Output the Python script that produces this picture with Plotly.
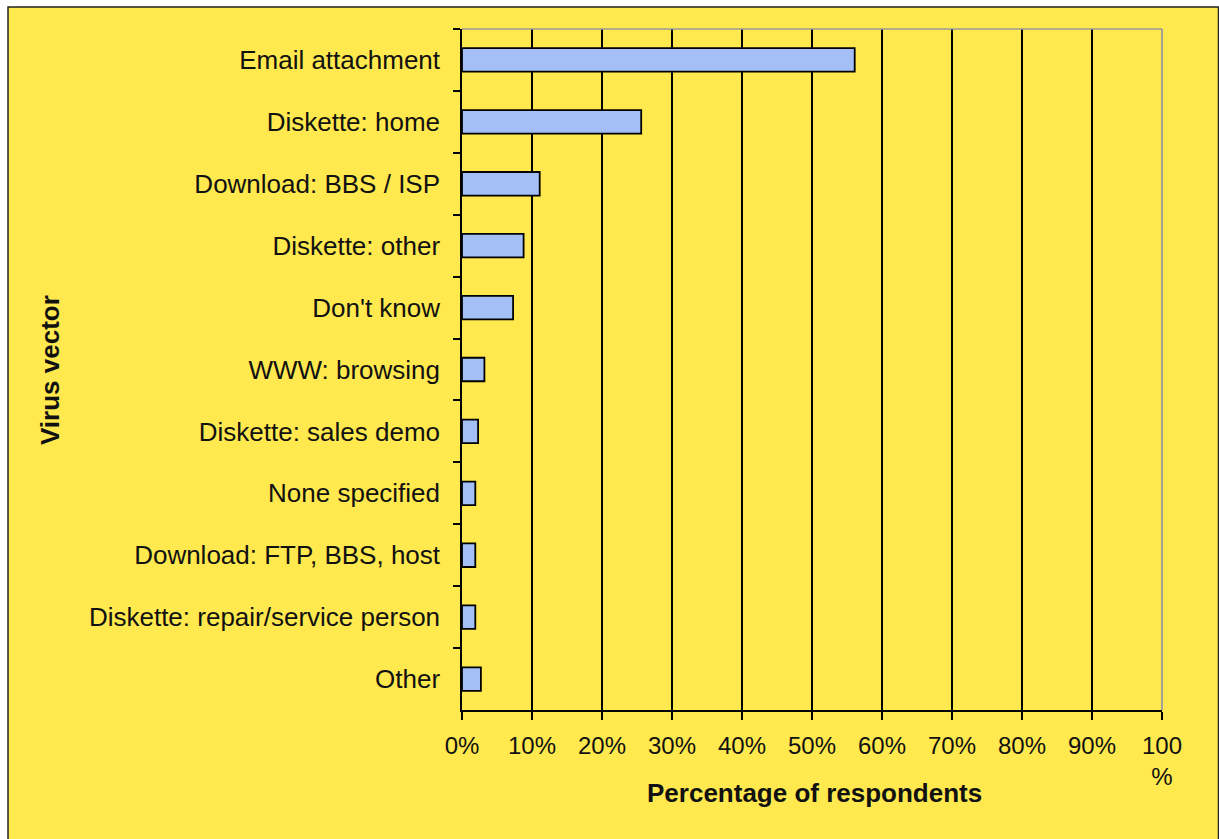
import plotly.graph_objects as go

categories = [
    "Email attachment",
    "Diskette: home",
    "Download: BBS / ISP",
    "Diskette: other",
    "Don't know",
    "WWW: browsing",
    "Diskette: sales demo",
    "None specified",
    "Download: FTP, BBS, host",
    "Diskette: repair/service person",
    "Other",
]
values = [56.1, 25.6, 11.1, 8.8, 7.3, 3.2, 2.3, 1.9, 1.9, 1.9, 2.7]
tick_vals = [0, 10, 20, 30, 40, 50, 60, 70, 80, 90, 100]
tick_text = ["0%", "10%", "20%", "30%", "40%", "50%", "60%", "70%", "80%", "90%", "100<br>%"]

W, H = 1219, 839
L, R, T, B = 462, W - 1162, 29, H - 710
pw, ph = W - L - R, H - T - B

def px(x):
    return (x - L) / pw

def py(y):
    return (H - B - y) / ph

FONT = "Liberation Sans, Arial, sans-serif"

fig = go.Figure(go.Bar(
    y=categories,
    x=values,
    orientation="h",
    width=0.38,
    marker=dict(color="#A3BFF5", line=dict(color="black", width=1.8)),
))

fig.update_layout(
    width=W, height=H,
    margin=dict(l=L, r=R, t=T, b=B, autoexpand=False),
    paper_bgcolor="white",
    plot_bgcolor="white",
    showlegend=False,
    font=dict(family=FONT, color="#111111"),
    xaxis=dict(
        range=[0, 100],
        tickvals=tick_vals,
        ticktext=tick_text,
        showgrid=True,
        gridcolor="black",
        gridwidth=1.5,
        zeroline=False,
        showline=True,
        linecolor="black",
        linewidth=1.5,
        ticks="outside",
        ticklen=8,
        tickwidth=1.5,
        tickcolor="black",
        tickfont=dict(size=24, family=FONT, color="#111111"),
        ticklabelstandoff=5,
        fixedrange=True,
    ),
    yaxis=dict(
        categoryorder="array",
        categoryarray=categories,
        autorange="reversed",
        showgrid=False,
        zeroline=False,
        showline=True,
        linecolor="black",
        linewidth=1.5,
        ticks="outside",
        tickson="boundaries",
        ticklen=7,
        tickwidth=1.5,
        tickcolor="black",
        tickfont=dict(size=26, family=FONT, color="#111111"),
        ticklabelstandoff=15,
        fixedrange=True,
    ),
    shapes=[
        dict(type="rect", xref="paper", yref="paper",
             x0=px(8), x1=px(1218.5), y0=py(7), y1=py(850),
             fillcolor="#FFE94E", line=dict(color="#222222", width=1.5),
             layer="below"),
        dict(type="line", xref="paper", yref="paper",
             x0=0, x1=1, y0=1, y1=1,
             line=dict(color="#9A9A9A", width=1.5), layer="above"),
        dict(type="line", xref="paper", yref="paper",
             x0=1, x1=1, y0=0, y1=1,
             line=dict(color="#9A9A9A", width=1.8), layer="above"),
    ],
    annotations=[
        dict(text="<b>Percentage of respondents</b>", xref="paper", yref="paper",
             x=px(814), y=py(793), showarrow=False,
             font=dict(size=26, family=FONT, color="#111111"),
             xanchor="center", yanchor="middle"),
        dict(text="<b>Virus vector</b>", xref="paper", yref="paper",
             x=px(50), y=py(370), showarrow=False, textangle=-90,
             font=dict(size=26, family=FONT, color="#111111"),
             xanchor="center", yanchor="middle"),
    ],
)

fig.write_html("out.html")
